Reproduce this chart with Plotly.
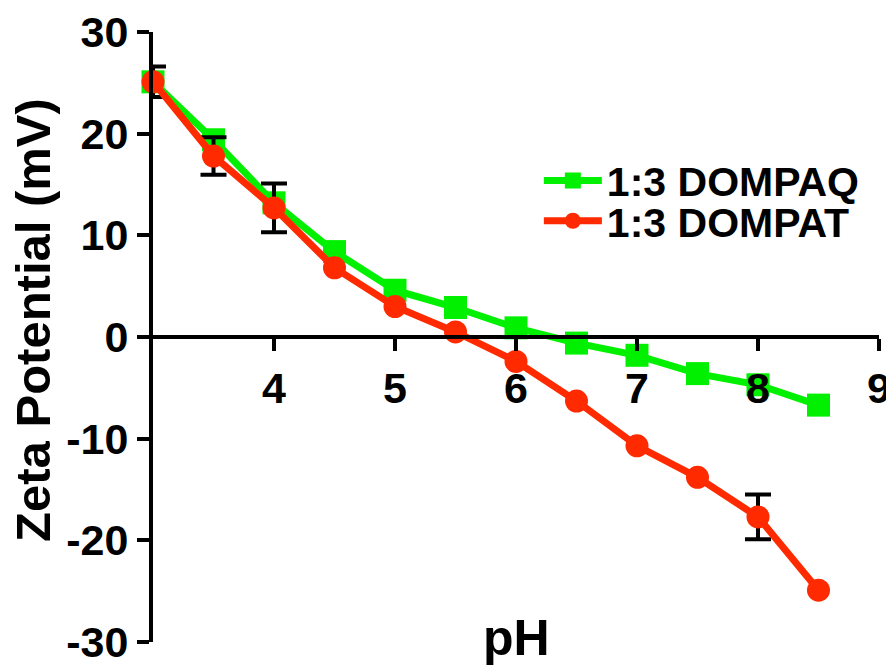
import plotly.graph_objects as go

ph = [3, 3.5, 4, 4.5, 5, 5.5, 6, 6.5, 7, 7.5, 8, 8.5]
dompaq = [25.1, 19.4, 13.2, 8.4, 4.6, 2.9, 0.9, -0.6, -1.8, -3.6, -4.7, -6.7]
dompat = [25.1, 17.8, 12.7, 6.8, 3.0, 0.5, -2.4, -6.3, -10.7, -13.8, -17.7, -24.9]
dompat_err = [1.5, 1.85, 2.4, 0, 0, 0, 0, 0, 0, 0, 2.2, 0]
x_ticks = [4, 5, 6, 7, 8, 9]
y_ticks = [-30, -20, -10, 0, 10, 20, 30]

GREEN = "#00f000"
RED = "#ff2a00"
FONT = "Liberation Sans, Arial, sans-serif"

err_x = [x for x, e in zip(ph, dompat_err) if e > 0]
err_y = [y for y, e in zip(dompat, dompat_err) if e > 0]
err_v = [e for e in dompat_err if e > 0]

fig = go.Figure()
fig.add_trace(go.Scatter(
    x=ph, y=dompaq, name="1:3 DOMPAQ", mode="lines+markers",
    line=dict(color=GREEN, width=7),
    marker=dict(symbol="square", size=23, color=GREEN),
    cliponaxis=False, legend="legend",
))
fig.add_trace(go.Scatter(
    x=err_x, y=err_y, mode="markers", showlegend=False, hoverinfo="skip",
    marker=dict(size=1, color="rgba(0,0,0,0)"),
    error_y=dict(type="data", array=err_v, visible=True, color="black",
                 thickness=4, width=13),
    cliponaxis=True,
))
fig.add_trace(go.Scatter(
    x=ph, y=dompat, name="1:3 DOMPAT", mode="lines+markers",
    line=dict(color=RED, width=7),
    marker=dict(symbol="circle", size=23, color=RED),
    cliponaxis=False, legend="legend2",
))

leg_font = dict(family=FONT, size=41, weight="bold", color="black")
tick_font = dict(family=FONT, size=43, weight="bold", color="black")

# page body has an 8px margin, so the figure is sized to fill the window from (8, 8)
fig.update_layout(
    width=886, height=660,
    paper_bgcolor="white", plot_bgcolor="white",
    margin=dict(l=145, r=15, t=24, b=26, autoexpand=False),
    font=dict(family=FONT, color="black"),
    showlegend=True,
    legend=dict(
        x=0.5315, y=0.756, xanchor="left", yanchor="middle",
        bgcolor="rgba(0,0,0,0)", font=leg_font, itemwidth=58,
    ),
    legend2=dict(
        x=0.5315, y=0.690, xanchor="left", yanchor="middle",
        bgcolor="rgba(0,0,0,0)", font=leg_font, itemwidth=58,
    ),
    xaxis=dict(
        range=[3, 9], anchor="free", position=0.5, automargin=False,
        tickvals=x_ticks, ticktext=[str(v) for v in x_ticks],
        showline=True, linewidth=4, linecolor="black",
        ticks="outside", ticklen=12, tickwidth=4, tickcolor="black",
        showgrid=False, zeroline=False, tickfont=tick_font,
    ),
    yaxis=dict(
        range=[-30, 30], automargin=False,
        tickvals=y_ticks, ticktext=[str(v) for v in y_ticks],
        showline=True, linewidth=4, linecolor="black",
        ticks="outside", ticklen=12, tickwidth=4, tickcolor="black",
        showgrid=False, zeroline=False, tickfont=tick_font,
    ),
    annotations=[
        dict(text="pH", xref="paper", yref="paper", x=0.5, y=-0.0426,
             xanchor="center", yanchor="bottom", showarrow=False,
             font=dict(family=FONT, size=50, weight="bold", color="black")),
        dict(text="Zeta Potential (mV)", xref="paper", yref="paper",
             x=-0.1653, y=0.528, xanchor="center", yanchor="middle",
             textangle=-90, showarrow=False,
             font=dict(family=FONT, size=49, weight="bold", color="black")),
    ],
)

fig.write_html("out.html")
